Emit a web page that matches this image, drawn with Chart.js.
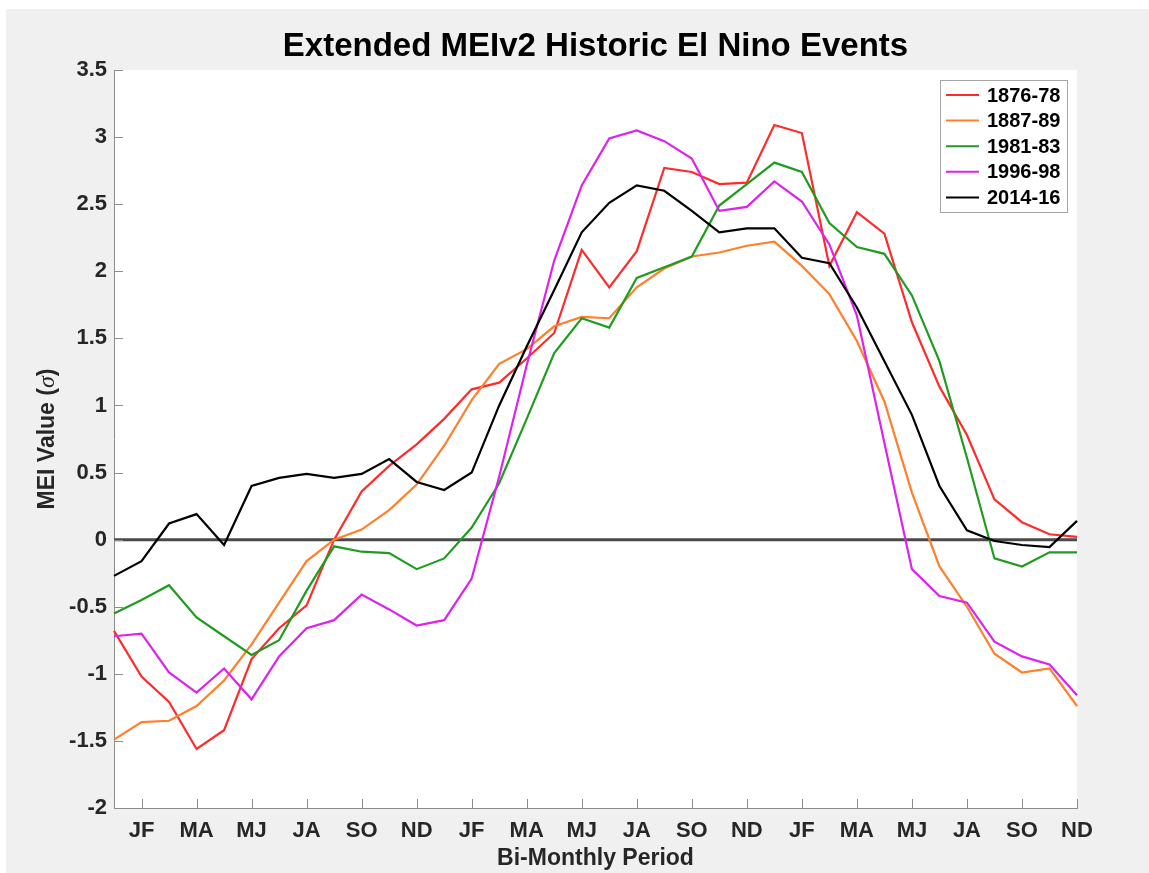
<!DOCTYPE html>
<html>
<head>
<meta charset="utf-8">
<script src="https://cdn.jsdelivr.net/npm/chart.js@4/dist/chart.umd.min.js"></script>
<style>
  html, body { margin: 0; padding: 0; background: #ffffff; }
  #wrap { position: relative; width: 1149px; height: 873px; }
  canvas { display: block; }
</style>
</head>
<body>
<div id="wrap"><canvas id="c" width="1149" height="873"></canvas></div>
<script>
// ---------- data ----------
const PERIODS = [
  'DJ','JF','FM','MA','AM','MJ','JJ','JA','AS','SO','ON','ND',
  'DJ','JF','FM','MA','AM','MJ','JJ','JA','AS','SO','ON','ND',
  'DJ','JF','FM','MA','AM','MJ','JJ','JA','AS','SO','ON','ND'
];
const SHOWN_TICKS = ['JF', 'MA', 'MJ', 'JA', 'SO', 'ND'];
const Y_MIN = -2;
const Y_MAX = 3.5;
const Y_STEP = 0.5;
const REFERENCE_LEVEL = 0;

const SERIES_LABELS = ['1876-78', '1887-89', '1981-83', '1996-98', '2014-16'];
const SERIES_COLORS = ['#ff2b2b', '#ff7f2a', '#1f9c1f', '#dd22ee', '#000000'];

const MEI_1876_78 = [-0.68, -1.02, -1.21, -1.56, -1.42, -0.89, -0.66, -0.49, 0.00, 0.36, 0.55, 0.71,
                      0.90, 1.12, 1.17, 1.35, 1.54, 2.16, 1.88, 2.15, 2.77, 2.74, 2.65, 2.66,
                      3.09, 3.03, 2.04, 2.44, 2.28, 1.62, 1.14, 0.78, 0.30, 0.13, 0.04, 0.02];
const MEI_1887_89 = [-1.49, -1.36, -1.35, -1.24, -1.05, -0.78, -0.47, -0.16, 0.00, 0.075, 0.22, 0.41,
                      0.70, 1.04, 1.31, 1.42, 1.59, 1.66, 1.65, 1.88, 2.02, 2.11, 2.14, 2.19,
                      2.22, 2.04, 1.83, 1.48, 1.03, 0.35, -0.20, -0.50, -0.85, -0.99, -0.96, -1.24];
const MEI_1981_83 = [-0.55, -0.45, -0.34, -0.58, -0.72, -0.86, -0.75, -0.38, -0.05, -0.09, -0.10, -0.22,
                     -0.14, 0.09, 0.42, 0.90, 1.39, 1.65, 1.58, 1.95, 2.03, 2.11, 2.49, 2.65,
                      2.81, 2.74, 2.36, 2.18, 2.13, 1.82, 1.33, 0.61, -0.14, -0.20, -0.095, -0.095];
const MEI_1996_98 = [-0.72, -0.70, -0.99, -1.14, -0.96, -1.19, -0.87, -0.66, -0.60, -0.41, -0.52, -0.64,
                     -0.60, -0.29, 0.47, 1.30, 2.08, 2.64, 2.99, 3.05, 2.97, 2.84, 2.45, 2.48,
                      2.67, 2.52, 2.20, 1.67, 0.72, -0.22, -0.42, -0.47, -0.76, -0.87, -0.93, -1.16];
const MEI_2014_16 = [-0.27, -0.16, 0.12, 0.19, -0.04, 0.40, 0.46, 0.49, 0.46, 0.49, 0.60, 0.43,
                      0.37, 0.50, 1.00, 1.44, 1.86, 2.29, 2.51, 2.64, 2.60, 2.45, 2.29, 2.32,
                      2.32, 2.10, 2.06, 1.73, 1.33, 0.93, 0.40, 0.07, -0.01, -0.04, -0.055, 0.14];

const SERIES_VALUES = [MEI_1876_78, MEI_1887_89, MEI_1981_83, MEI_1996_98, MEI_2014_16];

// ---------- style ----------
const FONT = "'Liberation Sans', Arial, Helvetica, sans-serif";
const AXIS_COLOR = '#8c8c8c';

const framePlugin = {
  id: 'framePlugin',
  beforeDraw(chart) {
    const { ctx, chartArea: a } = chart;
    ctx.save();
    ctx.fillStyle = '#ffffff';
    ctx.fillRect(0, 0, chart.width, chart.height);
    ctx.fillStyle = '#f0f0f0';
    ctx.fillRect(6, 9, chart.width - 6, chart.height - 9);
    ctx.fillStyle = '#ffffff';
    ctx.fillRect(a.left, a.top, a.right - a.left, a.bottom - a.top);
    ctx.restore();
  },
  beforeDatasetsDraw(chart) {
    const { ctx, chartArea: a } = chart;
    const y = chart.scales.y.getPixelForValue(REFERENCE_LEVEL);
    ctx.save();
    ctx.strokeStyle = '#4a4a4a';
    ctx.lineWidth = 3;
    ctx.beginPath();
    ctx.moveTo(a.left, y);
    ctx.lineTo(a.right, y);
    ctx.stroke();
    ctx.restore();
  },
  afterDraw(chart) {
    const { ctx, chartArea: a } = chart;
    const xs = chart.scales.x, ys = chart.scales.y;
    ctx.save();
    // inward tick marks
    ctx.strokeStyle = AXIS_COLOR;
    ctx.lineWidth = 1;
    ctx.beginPath();
    xs.ticks.forEach((t, i) => {
      if (!SHOWN_TICKS.includes(PERIODS[i])) return;
      const px = Math.round(xs.getPixelForTick(i)) + 0.5;
      ctx.moveTo(px, a.bottom);
      ctx.lineTo(px, a.bottom - 9);
    });
    ys.ticks.forEach((t, i) => {
      const py = Math.round(ys.getPixelForTick(i)) + 0.5;
      ctx.moveTo(a.left, py);
      ctx.lineTo(a.left + 9, py);
    });
    ctx.stroke();

    // y-axis title with italic sigma
    const parts = [
      { t: 'MEI Value (', f: 'bold 23px ' + FONT },
      { t: '\u03C3', f: "italic 24px 'Liberation Serif', 'DejaVu Serif', serif" },
      { t: ')', f: 'bold 23px ' + FONT }
    ];
    let total = 0;
    parts.forEach(p => { ctx.font = p.f; p.w = ctx.measureText(p.t).width; total += p.w; });
    ctx.translate(48, (a.top + a.bottom) / 2);
    ctx.rotate(-Math.PI / 2);
    ctx.fillStyle = '#262626';
    ctx.textBaseline = 'middle';
    ctx.textAlign = 'left';
    let cx = -total / 2;
    parts.forEach(p => { ctx.font = p.f; ctx.fillText(p.t, cx, 0); cx += p.w; });
    ctx.setTransform(1, 0, 0, 1, 0, 0);

    // legend box
    const bw = 127, rowH = 25.6;
    const bh = rowH * SERIES_LABELS.length + 4;
    const bx = a.right - 10 - bw, by = a.top + 10;
    ctx.fillStyle = '#ffffff';
    ctx.fillRect(bx, by, bw, bh);
    ctx.strokeStyle = '#a6a6a6';
    ctx.lineWidth = 1;
    ctx.strokeRect(Math.round(bx) + 0.5, Math.round(by) + 0.5, bw, bh);
    ctx.font = 'bold 20px ' + FONT;
    ctx.textBaseline = 'middle';
    ctx.textAlign = 'left';
    chart.data.datasets.forEach((ds, k) => {
      const yy = by + 15 + k * rowH;
      ctx.strokeStyle = ds.borderColor;
      ctx.lineWidth = 2;
      ctx.beginPath();
      ctx.moveTo(bx + 6, yy);
      ctx.lineTo(bx + 39, yy);
      ctx.stroke();
      ctx.fillStyle = '#000000';
      ctx.fillText(ds.label, bx + 47, yy + 1);
    });
    ctx.restore();
  }
};

const datasets = SERIES_LABELS.map((lab, k) => ({
  label: lab,
  data: SERIES_VALUES[k],
  borderColor: SERIES_COLORS[k],
  backgroundColor: SERIES_COLORS[k],
  borderWidth: 2.2,
  pointRadius: 0,
  tension: 0,
  fill: false,
  order: SERIES_LABELS.length - k
}));

new Chart(document.getElementById('c'), {
  type: 'line',
  data: { labels: PERIODS, datasets },
  options: {
    responsive: false,
    animation: false,
    devicePixelRatio: 1,
    layout: { padding: { left: 0, right: 72, top: 0, bottom: 0 } },
    plugins: {
      legend: { display: false },
      tooltip: { enabled: false },
      title: {
        display: true,
        fullSize: false,
        text: 'Extended MEIv2 Historic El Nino Events',
        color: '#000000',
        font: { family: FONT, size: 33, weight: 'bold' },
        padding: { top: 27, bottom: 3.4 }
      }
    },
    scales: {
      x: {
        type: 'category',
        offset: false,
        grid: { display: false, drawTicks: false },
        border: { display: true, color: AXIS_COLOR, width: 1 },
        ticks: {
          autoSkip: false,
          maxRotation: 0,
          minRotation: 0,
          padding: 10,
          color: '#262626',
          font: { family: FONT, size: 22, weight: 'bold' },
          callback: function (v, i) { return SHOWN_TICKS.includes(PERIODS[i]) ? PERIODS[i] : ''; }
        },
        title: {
          display: true,
          text: 'Bi-Monthly Period',
          color: '#262626',
          font: { family: FONT, size: 23, weight: 'bold' },
          padding: { top: 0, bottom: 1 }
        },
        afterFit: (s) => { s.height = 65; }
      },
      y: {
        min: Y_MIN,
        max: Y_MAX,
        grid: { display: false, drawTicks: false },
        border: { display: true, color: AXIS_COLOR, width: 1 },
        ticks: {
          stepSize: Y_STEP,
          padding: 7,
          color: '#262626',
          font: { family: FONT, size: 22, weight: 'bold' },
          callback: (v) => String(Math.round(v * 10) / 10)
        },
        afterFit: (s) => { s.width = 114; }
      }
    }
  },
  plugins: [framePlugin]
});
</script>
</body>
</html>
